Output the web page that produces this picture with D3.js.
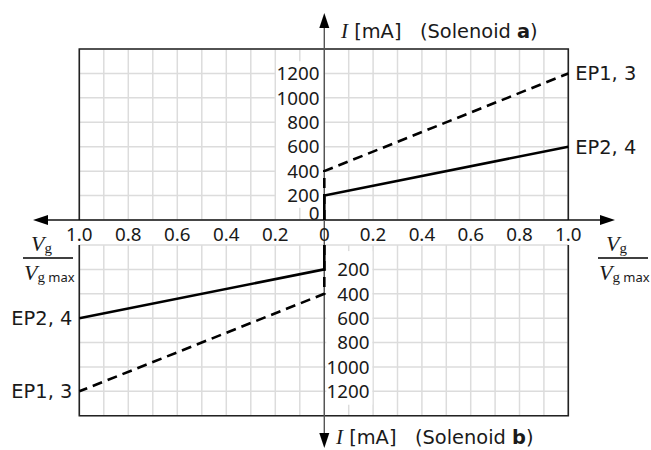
<!DOCTYPE html>
<html>
<head>
<meta charset="utf-8">
<script src="https://cdn.jsdelivr.net/npm/d3@7"></script>
<style>
  html, body { margin: 0; padding: 0; background: #fff; }
  svg { display: block; }
  text { font-family: "Noto Sans", sans-serif; fill: #1a1a1a; }
  .wide { font-family: "DejaVu Sans", sans-serif; }
</style>
</head>
<body>
<div id="chart"></div>
<script>
// ---- data ----
const xTicks = [0, 0.2, 0.4, 0.6, 0.8, 1.0];
const xTickLabels = ["0", "0.2", "0.4", "0.6", "0.8", "1.0"];
const xGrid = [0, 0.1, 0.2, 0.3, 0.4, 0.5, 0.6, 0.7, 0.8, 0.9, 1.0];
const yTicksA = [0, 200, 400, 600, 800, 1000, 1200];
const yTicksB = [200, 400, 600, 800, 1000, 1200];
const yGrid = [0, 200, 400, 600, 800, 1000, 1200, 1400];

// Solenoid a (right half, upward)
const ep13A_x = [0, 0, 1.0];
const ep13A_I = [0, 400, 1200];
const ep24A_x = [0, 0, 1.0];
const ep24A_I = [0, 200, 600];
// Solenoid b (left half, downward)
const ep13B_x = [0, 0, 1.0];
const ep13B_I = [0, 400, 1200];
const ep24B_x = [0, 0, 1.0];
const ep24B_I = [0, 200, 600];

const seriesLabels = ["EP1, 3", "EP2, 4"];

// ---- layout ----
const W = 651, H = 450;
const x0 = 324.3, xL = 79.3, xR = 568.3;
const yTop = 49, yA0 = 220, yB0 = 245, yBot = 415.7;
const FS = 18.8;   // tick numbers
const FT = 19.4;   // titles / series labels (wide font)

const xRight = d3.scaleLinear().domain([0, 1]).range([x0, xR]);
const xLeft = d3.scaleLinear().domain([0, 1]).range([x0, xL]);
const yA = d3.scaleLinear().domain([0, 1400]).range([yA0, yTop]);
const yB = d3.scaleLinear().domain([0, 1400]).range([yB0, yBot]);

const svg = d3.select("#chart").append("svg").attr("width", W).attr("height", H);

const gridColor = "#dcdcdc";
function grid(xs, ys) {
  const g = svg.append("g");
  g.selectAll(".v").data(xGrid).join("line")
    .attr("x1", d => xs(d)).attr("x2", d => xs(d))
    .attr("y1", ys(0)).attr("y2", ys(1400))
    .attr("stroke", gridColor).attr("stroke-width", 1.5);
  g.selectAll(".h").data(yGrid).join("line")
    .attr("x1", xs(0)).attr("x2", xs(1))
    .attr("y1", d => ys(d)).attr("y2", d => ys(d))
    .attr("stroke", gridColor).attr("stroke-width", 1.5);
}
grid(xRight, yA);
grid(xLeft, yA);
grid(xRight, yB);
grid(xLeft, yB);

// white backgrounds behind y labels
svg.append("rect").attr("x", 276).attr("y", yA(1300)).attr("width", x0 - 277)
  .attr("height", yA(100) - yA(1300)).attr("fill", "#fff");
svg.append("rect").attr("x", x0 + 2).attr("y", yB(50)).attr("width", 46)
  .attr("height", yB(1310) - yB(50)).attr("fill", "#fff");

// box borders
const boxColor = "#222";
svg.append("path")
  .attr("d", `M${xLeft(1)},${yA(0)} V${yA(1400)} H${xRight(1)} V${yA(0)}`)
  .attr("fill", "none").attr("stroke", boxColor).attr("stroke-width", 1.6);
svg.append("path")
  .attr("d", `M${xLeft(1)},${yB(0)} V${yB(1400)} H${xRight(1)} V${yB(0)}`)
  .attr("fill", "none").attr("stroke", boxColor).attr("stroke-width", 1.6);

// axes with arrows
svg.append("line").attr("x1", 40).attr("x2", 608).attr("y1", yA0).attr("y2", yA0)
  .attr("stroke", "#111").attr("stroke-width", 1.4);
svg.append("line").attr("x1", x0).attr("x2", x0).attr("y1", 20).attr("y2", 440)
  .attr("stroke", "#555").attr("stroke-width", 1.4);
function arrow(tx, ty, dir) {
  const L = 15, hw = 5;
  let p;
  if (dir === "left") p = [[tx, ty], [tx + L, ty - hw], [tx + L, ty + hw]];
  if (dir === "right") p = [[tx, ty], [tx - L, ty - hw], [tx - L, ty + hw]];
  if (dir === "up") p = [[tx, ty], [tx - hw, ty + L], [tx + hw, ty + L]];
  if (dir === "down") p = [[tx, ty], [tx - hw, ty - L], [tx + hw, ty - L]];
  svg.append("path").attr("d", d3.line()(p) + "Z").attr("fill", "#000");
}
arrow(33, yA0, "left");
arrow(615, yA0, "right");
arrow(x0, 13, "up");
arrow(x0, 448, "down");

// x tick labels
const xLab = svg.append("g").attr("font-size", FS).attr("text-anchor", "middle");
xLab.selectAll(".r").data(xTicks).join("text")
  .attr("x", d => xRight(d)).attr("y", 240.5)
  .text((d, i) => xTickLabels[i]);
xLab.selectAll(".l").data(xTicks.slice(1)).join("text")
  .attr("x", d => xLeft(d)).attr("y", 240.5)
  .text((d, i) => xTickLabels[i + 1]);

// y tick labels
svg.append("g").attr("font-size", FS).attr("text-anchor", "end")
  .selectAll("text").data(yTicksA).join("text")
  .attr("x", 319.5).attr("y", d => d === 0 ? yA(d) : yA(d))
  .attr("dy", d => d === 0 ? 0 : "0.36em").text(d => d);
svg.append("g").attr("font-size", FS).attr("text-anchor", "end")
  .selectAll("text").data(yTicksB).join("text")
  .attr("x", 369.5).attr("y", d => yB(d)).attr("dy", "0.36em").text(d => d);

// data lines
function drawLine(xs, ys, xv, iv, dashed) {
  const pts = xv.map((v, i) => [xs(v), ys(iv[i])]);
  svg.append("path").attr("d", d3.line()(pts))
    .attr("fill", "none").attr("stroke", "#000").attr("stroke-width", 2.6)
    .attr("stroke-dasharray", dashed ? "10,6" : null);
}
drawLine(xRight, yA, ep13A_x, ep13A_I, true);
drawLine(xRight, yA, ep24A_x, ep24A_I, false);
drawLine(xLeft, yB, ep13B_x, ep13B_I, true);
drawLine(xLeft, yB, ep24B_x, ep24B_I, false);

// series labels
const lab = svg.append("g").attr("font-size", FT);
lab.append("text").attr("class", "wide").attr("x", xRight(1) + 7).attr("y", yA(ep13A_I[2])).attr("dy", "0.36em").text(seriesLabels[0]);
lab.append("text").attr("class", "wide").attr("x", xRight(1) + 7).attr("y", yA(ep24A_I[2])).attr("dy", "0.36em").text(seriesLabels[1]);
lab.append("text").attr("class", "wide").attr("x", xLeft(1) - 7).attr("y", yB(ep24B_I[2])).attr("dy", "0.36em")
  .attr("text-anchor", "end").text(seriesLabels[1]);
lab.append("text").attr("class", "wide").attr("x", xLeft(1) - 7).attr("y", yB(ep13B_I[2])).attr("dy", "0.36em")
  .attr("text-anchor", "end").text(seriesLabels[0]);

// axis titles
function title(x, y, letter) {
  const t = svg.append("text").attr("class", "wide").attr("x", x).attr("y", y)
    .attr("font-size", FT).attr("xml:space", "preserve");
  t.append("tspan").attr("font-family", "'Liberation Serif', serif").attr("font-style", "italic")
    .attr("font-size", 21).text("I");
  t.append("tspan").text(" [mA]   (Solenoid ");
  t.append("tspan").attr("font-weight", "bold").text(letter);
  t.append("tspan").text(")");
}
title(341, 38, "a");
title(336, 444, "b");

// V_g / V_g max fractions
function frac(xc) {
  const g = svg.append("g");
  const num = g.append("text").attr("x", xc - 17).attr("y", 251);
  num.append("tspan").attr("font-family", "'Liberation Serif', serif").attr("font-style", "italic")
    .attr("font-size", 22).text("V");
  num.append("tspan").attr("font-family", "'Liberation Serif', serif").attr("font-size", 15)
    .attr("dy", 2).text("g");
  g.append("line").attr("x1", xc - 25).attr("x2", xc + 25).attr("y1", 258).attr("y2", 258)
    .attr("stroke", "#000").attr("stroke-width", 1.3);
  const den = g.append("text").attr("x", xc - 24).attr("y", 280);
  den.append("tspan").attr("font-family", "'Liberation Serif', serif").attr("font-style", "italic")
    .attr("font-size", 22).text("V");
  den.append("tspan").attr("font-family", "'Liberation Serif', serif").attr("font-size", 15)
    .attr("dy", 2).text("g");
  den.append("tspan").attr("font-size", 13).text(" max");
}
frac(48);
frac(623);
</script>
</body>
</html>
